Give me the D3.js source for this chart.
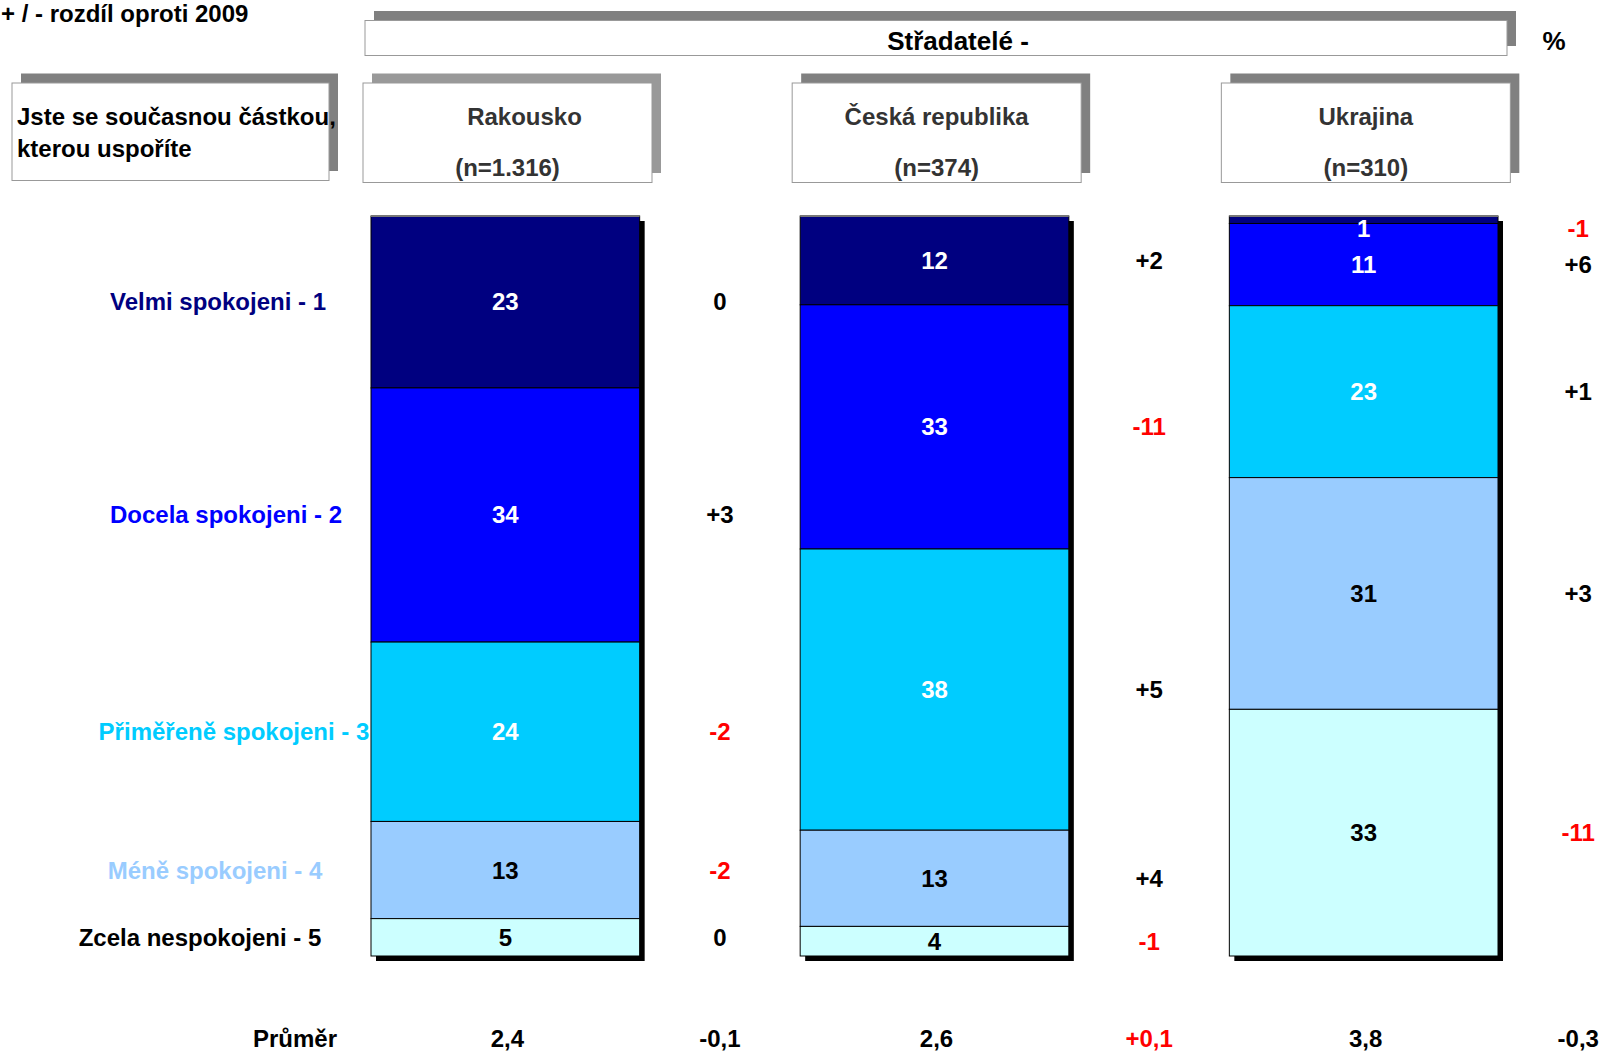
<!DOCTYPE html>
<html>
<head>
<meta charset="utf-8">
<script src="https://cdn.jsdelivr.net/npm/d3@7"></script>
<style>
  body { margin: 0; background: #fff; }
  text { font-family: "Liberation Sans", Arial, sans-serif; font-weight: bold; }
</style>
</head>
<body>
<div class="chart"></div>
<script>
// data
const countries = ['Rakousko', 'Česká republika', 'Ukrajina']
const sampleSizes = ['(n=1.316)', '(n=374)', '(n=310)']
const categories = ['Velmi spokojeni - 1', 'Docela spokojeni - 2', 'Přiměřeně spokojeni - 3', 'Méně spokojeni - 4', 'Zcela nespokojeni - 5']
const valuesAT = [23, 34, 24, 13, 5]
const valuesCZ = [12, 33, 38, 13, 4]
const valuesUA = [1, 11, 23, 31, 33]
const deltaAT = [0, 3, -2, -2, 0]
const deltaCZ = [2, -11, 5, 4, -1]
const deltaUA = [-1, 6, 1, 3, -11]
const means = ['2,4', '2,6', '3,8']
const meanDeltas = ['-0,1', '+0,1', '-0,3']

const values = [valuesAT, valuesCZ, valuesUA]
const deltas = [deltaAT, deltaCZ, deltaUA]

const fills = ['#000080', '#0000FF', '#00CCFF', '#99CCFF', '#CCFFFF']
const labelFills = ['#fff', '#fff', '#fff', '#000', '#000']
const catColors = ['#000080', '#0000FF', '#00CCFF', '#99CCFF', '#000000']

//layout tweaks (text boxes in the original are not aligned)
const catLabelX = [218, 226, 234, 215, 200]
const titleShift = [17, 0, 0]

const width = 1608, height = 1052
const fs = 24
const svg = d3.select(".chart").append("svg")
    .attr("width", width)
    .attr("height", height)

const x = d3.scaleBand()
  .domain(countries)
  .range([371, 1498])
  .paddingInner(0.374)
  .paddingOuter(0)

const barTop = 216, barBottom = 956

function fmtDelta(d) {
  return d > 0 ? '+' + d : String(d)
}

//header text top left
svg.append("text")
    .attr("x", 1).attr("y", 22)
    .attr("font-size", fs)
    .text("+ / - rozdíl oproti 2009")

//white box with a grey shadow up and to the right
function box(x0, y0, w, h, shadow) {
  svg.append("rect")
      .attr("x", x0 + 9).attr("y", y0 - 9.5)
      .attr("width", w).attr("height", h)
      .attr("fill", shadow)
  svg.append("rect")
      .attr("x", x0).attr("y", y0)
      .attr("width", w).attr("height", h)
      .attr("fill", "#fff")
      .attr("stroke", "#999")
      .attr("stroke-width", 1)
}

box(365, 20.5, 1142, 35, "#808080")
svg.append("text")
    .attr("x", 958).attr("y", 50)
    .attr("text-anchor", "middle")
    .attr("font-size", 26)
    .text("Střadatelé -")
svg.append("text")
    .attr("x", 1554).attr("y", 50)
    .attr("text-anchor", "middle")
    .attr("font-size", 26)
    .text("%")

box(12, 83, 317, 97.5, "#808080")
svg.append("text")
    .attr("x", 17).attr("y", 124.5)
    .attr("font-size", fs)
    .text("Jste se současnou částkou,")
svg.append("text")
    .attr("x", 17).attr("y", 156.5)
    .attr("font-size", fs)
    .text("kterou uspoříte")

countries.forEach((c, i) => {
  const bx = x(c) - 8
  box(bx, 83, 289, 99.5, i === 0 ? "#999999" : "#808080")
  svg.append("text")
      .attr("x", bx + 144.5 + titleShift[i]).attr("y", 125)
      .attr("text-anchor", "middle")
      .attr("font-size", fs)
      .attr("fill", "#333")
      .text(c)
  svg.append("text")
      .attr("x", bx + 144.5).attr("y", 176)
      .attr("text-anchor", "middle")
      .attr("font-size", fs)
      .attr("fill", "#333")
      .text(sampleSizes[i])
})

//stacked bars
countries.forEach((c, i) => {
  const vals = values[i]
  const total = d3.sum(vals)
  const y = d3.scaleLinear().domain([0, total]).range([barTop, barBottom])
  const cum = d3.cumsum(vals)
  const segs = vals.map((v, j) => ({ v, j, y0: y(cum[j] - v), y1: y(cum[j]) }))
  const labelY = d => Math.max((d.y0 + d.y1) / 2, d.y0 + 12) + 8.5
  const g = svg.append("g")

  g.append("rect")
      .attr("x", x(c) + 5).attr("y", barTop + 5)
      .attr("width", x.bandwidth()).attr("height", barBottom - barTop)
      .attr("fill", "#000")

  g.selectAll("rect.seg")
    .data(segs)
    .join("rect")
      .attr("class", "seg")
      .attr("x", x(c))
      .attr("y", d => d.y0)
      .attr("width", x.bandwidth())
      .attr("height", d => d.y1 - d.y0)
      .attr("fill", d => fills[d.j])
      .attr("stroke", "#000")
      .attr("stroke-width", 1)

  g.append("line")
      .attr("x1", x(c)).attr("x2", x(c) + x.bandwidth())
      .attr("y1", barTop).attr("y2", barTop)
      .attr("stroke", "#777").attr("stroke-width", 2)

  g.selectAll("text.val")
    .data(segs)
    .join("text")
      .attr("class", "val")
      .attr("x", x(c) + x.bandwidth() / 2)
      .attr("y", labelY)
      .attr("text-anchor", "middle")
      .attr("font-size", fs)
      .attr("fill", d => labelFills[d.j])
      .text(d => d.v)

  const dx = x(c) + x.bandwidth() / 2 + x.step() / 2
  g.selectAll("text.delta")
    .data(segs)
    .join("text")
      .attr("class", "delta")
      .attr("x", dx)
      .attr("y", labelY)
      .attr("text-anchor", "middle")
      .attr("font-size", fs)
      .attr("fill", d => deltas[i][d.j] < 0 ? "#FF0000" : "#000")
      .text(d => fmtDelta(deltas[i][d.j]))

  //mean row
  svg.append("text")
      .attr("x", x(c) + x.bandwidth() / 2 + 2)
      .attr("y", 1046.5)
      .attr("text-anchor", "middle")
      .attr("font-size", fs)
      .text(means[i])
  svg.append("text")
      .attr("x", dx)
      .attr("y", 1046.5)
      .attr("text-anchor", "middle")
      .attr("font-size", fs)
      .attr("fill", meanDeltas[i].startsWith('+') ? "#FF0000" : "#000")
      .text(meanDeltas[i])

  //category labels follow the first bar
  if (i === 0) {
    svg.selectAll("text.cat")
      .data(segs)
      .join("text")
        .attr("class", "cat")
        .attr("x", d => catLabelX[d.j])
        .attr("y", d => (d.y0 + d.y1) / 2 + 8.5)
        .attr("text-anchor", "middle")
        .attr("font-size", fs)
        .attr("fill", d => catColors[d.j])
        .text(d => categories[d.j])
  }
})

svg.append("text")
    .attr("x", 295).attr("y", 1046.5)
    .attr("text-anchor", "middle")
    .attr("font-size", fs)
    .text("Průměr")
</script>
</body>
</html>
